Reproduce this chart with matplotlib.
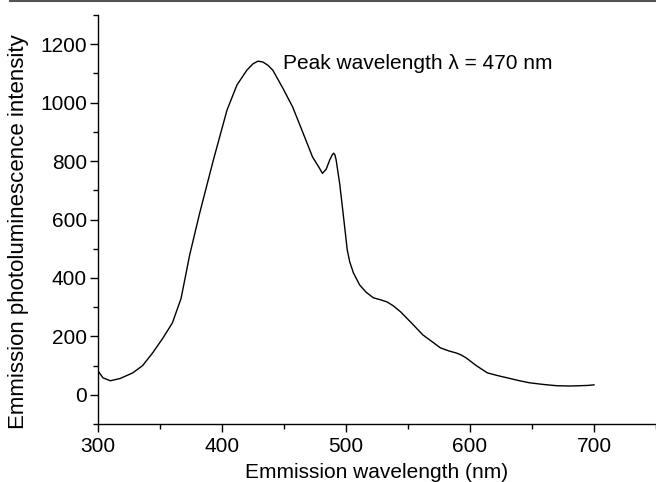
import matplotlib
matplotlib.use("Agg")
import matplotlib.pyplot as plt
from matplotlib.lines import Line2D
from matplotlib.ticker import MultipleLocator
import numpy as np

wavelength = [300, 304, 310, 318, 328, 336, 344, 352, 360, 367, 374, 382, 393, 404,
              412, 420, 425, 429, 433, 437, 441, 449, 457, 465, 473, 478, 481, 484,
              487, 489, 490, 491, 492, 495, 498, 501, 503, 506, 511, 516, 522, 528,
              533, 538, 544, 553, 562, 570, 576, 583, 589, 593, 597, 605, 614, 622,
              630, 640, 648, 660, 670, 680, 688, 695, 700]
intensity = [82, 58, 48, 56, 75, 100, 143, 192, 246, 330, 480, 622, 803, 974,
             1060, 1111, 1133, 1142, 1139, 1128, 1111, 1050, 985, 900, 814, 780, 758, 772,
             805, 822, 827, 822, 805, 720, 609, 496, 455, 417, 376, 352, 332, 325,
             318, 305, 284, 245, 205, 180, 161, 150, 143, 136, 126, 100, 75, 66,
             58, 48, 41, 35, 31, 30, 31, 32, 34]

xticks = [300, 400, 500, 600, 700]
yticks = [0, 200, 400, 600, 800, 1000, 1200]

plt.rcParams['font.family'] = ['Liberation Sans', 'DejaVu Sans']

fig = plt.figure(figsize=(6.56, 4.82), dpi=100)
ax = fig.add_axes([98/656, 1 - 424/482, 1 - 98/656, (424 - 15)/482])

ax.plot(wavelength, intensity, color='black', linewidth=1.0)

ax.set_xlim(300, 750)
ax.set_ylim(-100, 1300)
ax.set_xticks(xticks)
ax.set_yticks(yticks)
ax.xaxis.set_minor_locator(MultipleLocator(50))
ax.yaxis.set_minor_locator(MultipleLocator(100))
ax.tick_params(which='major', direction='out', length=6, width=1, labelsize=15)
ax.tick_params(which='minor', direction='out', length=3.5, width=1)
ax.tick_params(axis='x', pad=3)
ax.tick_params(axis='y', pad=2)

for s in ['top', 'right']:
    ax.spines[s].set_visible(False)
for s in ['left', 'bottom']:
    ax.spines[s].set_linewidth(1.0)

ax.set_xlabel('Emmission wavelength (nm)', fontsize=15)
ax.set_ylabel('Emmission photoluminescence intensity', fontsize=16)
ax.xaxis.set_label_coords((376.5 - 98) / (656 - 98), -(472 - 424) / 409)
ax.yaxis.set_label_coords(-(98 - 19) / 558, (424 - 232) / 409)
ax.xaxis.label.set_va('center')
ax.yaxis.label.set_va('center')

ax.text(449, 1135, 'Peak wavelength λ = 470 nm', fontsize=15, va='center', ha='left')

fig.add_artist(Line2D([10/656, 1], [1 - 1/482, 1 - 1/482], color='#555555', linewidth=1.5,
                      transform=fig.transFigure))

fig.savefig('out.png', dpi=100)
